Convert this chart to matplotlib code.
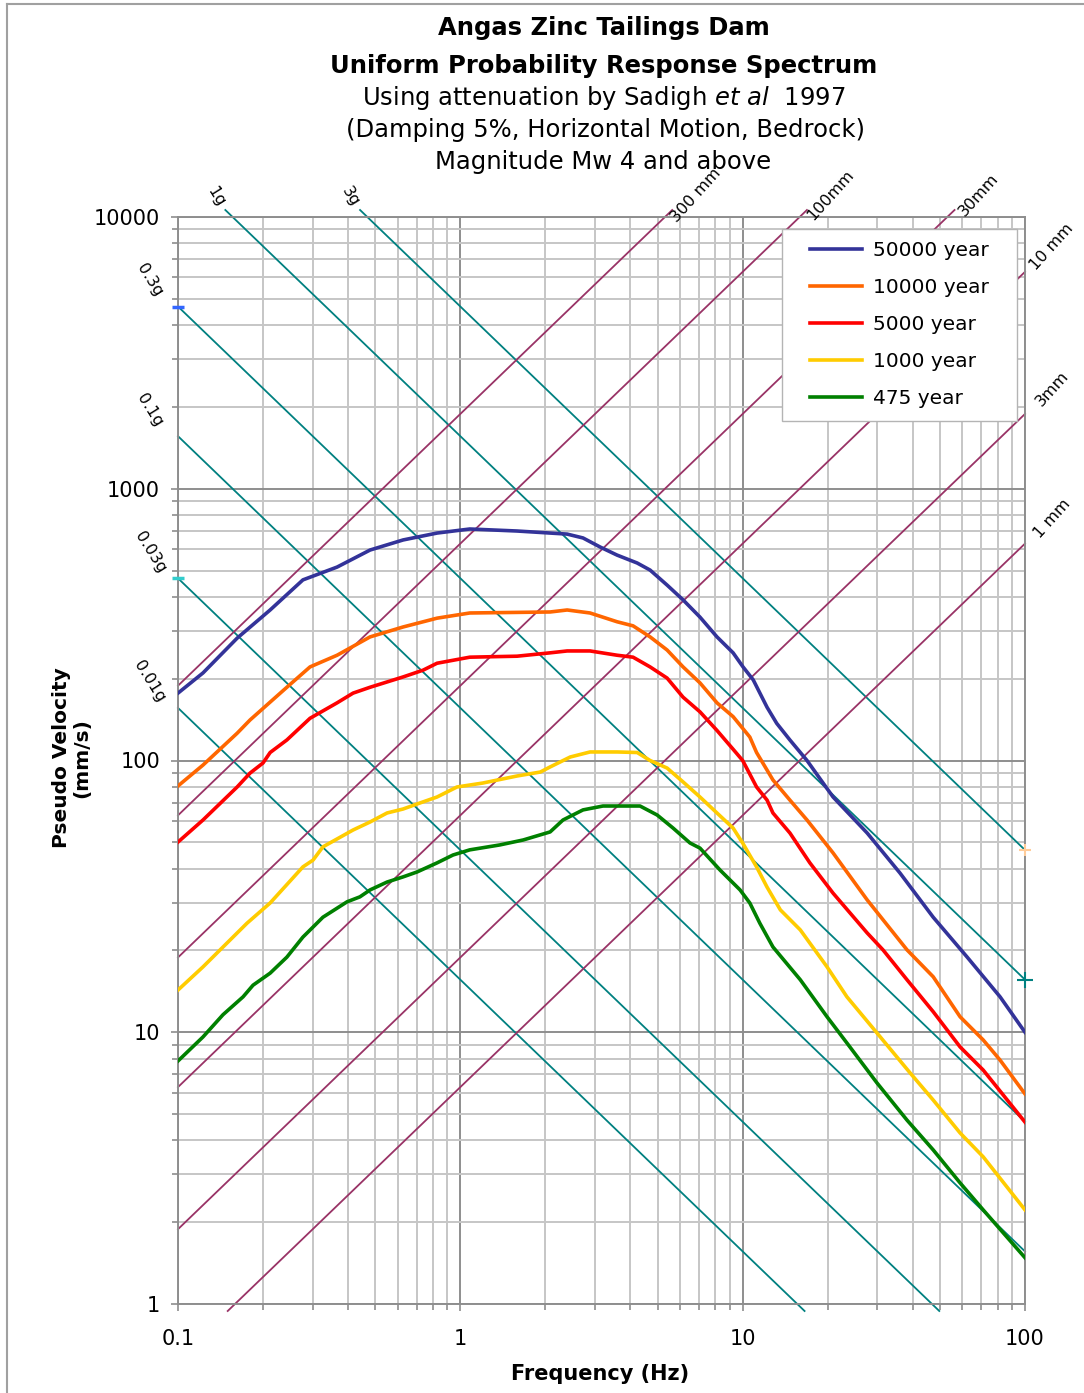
import numpy as np
import matplotlib
matplotlib.use("Agg")
import matplotlib.pyplot as plt
from matplotlib.ticker import LogLocator, NullFormatter, FixedLocator, FixedFormatter
from matplotlib.lines import Line2D
from matplotlib.patches import Rectangle

# ---------------- data ----------------
blue_f = [0.1, 0.1226, 0.162, 0.212, 0.277, 0.366, 0.479, 0.627, 0.827, 1.08, 1.588, 2.08, 2.39, 2.72,
          3.13, 3.59, 4.23, 4.70, 5.40, 6.15, 7.06, 8.11, 9.25, 10.03, 10.9, 12.2, 13.2, 14.7, 16.9,
          20.9, 27.6, 36.1, 47.3, 62.4, 81.6, 100]
blue_v = [177, 210, 282, 358, 462, 515, 595, 648, 687, 711, 699, 687, 681, 659,
          610, 570, 533, 502, 442, 390, 337, 285, 249, 221, 198, 157, 137, 119, 100,
          73.4, 54.1, 38.5, 26.5, 18.9, 13.5, 10.0]

orange_f = [0.1, 0.1226, 0.162, 0.18, 0.212, 0.243, 0.2935, 0.366, 0.479, 0.627, 0.827, 1.08, 2.08, 2.39,
            2.88, 3.59, 4.09, 4.70, 5.40, 6.15, 7.06, 8.11, 9.25, 10.6, 11.2, 12.8, 14.7, 16.9, 20.9,
            27.6, 38.2, 47.3, 58.9, 71.1, 81.6, 100]
orange_v = [80.6, 96.2, 126, 141, 164, 186, 221, 244, 285, 310, 334, 349, 352, 358,
            349, 324, 313, 285, 255, 221, 193, 163, 145, 122, 107, 84.8, 71.5, 60.4, 45.7,
            30.7, 20.1, 16.0, 11.4, 9.37, 7.9, 5.93]

red_f = [0.1, 0.1226, 0.162, 0.18, 0.2, 0.212, 0.243, 0.2935, 0.366, 0.417, 0.479, 0.627, 0.738, 0.827,
         1.08, 1.588, 2.08, 2.39, 2.88, 3.59, 4.09, 4.70, 5.40, 6.15, 7.06, 8.11, 9.25, 10.0, 11.2,
         12.2, 12.8, 14.7, 17.3, 20.9, 27.6, 31.4, 38.2, 47.3, 58.9, 71.1, 100]
red_v = [50.1, 60.4, 79.9, 89.9, 97.9, 107, 119, 143, 163, 177, 186, 203, 215, 228,
         240, 242, 249, 253, 253, 244, 240, 221, 201, 171, 151, 129, 110, 100, 79.9,
         71.5, 64.1, 54.1, 42.0, 32.5, 23.2, 20.1, 15.6, 11.9, 8.83, 7.26, 4.67]

yellow_f = [0.1, 0.1226, 0.141, 0.1756, 0.212, 0.277, 0.3008, 0.326, 0.417, 0.479, 0.55, 0.627, 0.72,
            0.827, 0.973, 1.20, 1.588, 1.92, 2.08, 2.45, 2.88, 3.59, 4.23, 4.70, 5.40, 6.15, 7.06,
            8.11, 9.25, 10.0, 11.2, 12.2, 13.6, 16.0, 19.9, 23.4, 29.9, 39.2, 47.3, 58.9, 71.1, 100]
yellow_v = [14.3, 17.4, 20.1, 25.2, 29.9, 40.6, 43.0, 48.1, 55.5, 59.4, 64.1, 66.3, 69.8,
            73.4, 79.9, 82.6, 87.7, 90.7, 94.7, 103, 107.5, 107.5, 107, 100, 93.8, 83.4, 73.4,
            64.1, 56.4, 49.7, 40.6, 34.2, 28.2, 23.8, 17.4, 13.5, 9.94, 7.08, 5.63, 4.26, 3.48, 2.22]

green_f = [0.1, 0.1226, 0.1443, 0.170, 0.1844, 0.212, 0.243, 0.277, 0.301, 0.326, 0.397, 0.441, 0.479,
           0.55, 0.627, 0.703, 0.827, 0.942, 1.08, 1.38, 1.67, 2.08, 2.31, 2.72, 3.20, 4.33, 4.98,
           5.67, 6.51, 7.06, 8.32, 9.79, 10.6, 11.5, 12.8, 16.0, 19.9, 23.4, 29.9, 38.2, 47.3,
           58.9, 71.1, 100]
green_v = [7.84, 9.61, 11.6, 13.5, 14.9, 16.5, 18.9, 22.4, 24.4, 26.5, 30.2, 31.5, 33.4,
           35.7, 37.3, 38.9, 42.0, 44.9, 46.9, 48.9, 51.0, 54.6, 60.4, 65.8, 68.0, 68.0, 63.0,
           56.4, 49.7, 47.6, 39.5, 33.4, 29.9, 25.2, 20.6, 15.6, 11.4, 9.13, 6.51, 4.75, 3.69,
           2.79, 2.22, 1.48]

series_names = ["50000 year", "10000 year", "5000 year", "1000 year", "475 year"]
series_colors = ["#333399", "#FF6600", "#FF0000", "#FFCC00", "#008000"]
series_f = [blue_f, orange_f, red_f, yellow_f, green_f]
series_v = [blue_v, orange_v, red_v, yellow_v, green_v]

accel_g = [0.01, 0.03, 0.1, 0.3, 1, 3]
accel_labels = ["0.01g", "0.03g", "0.1g", "0.3g", "1g", "3g"]
disp_mm = [1, 3, 10, 30, 100, 300]
disp_labels = ["1 mm", "3mm", "10 mm", "30mm", "100mm", "300 mm"]

x_ticks = [0.1, 1, 10, 100]
x_ticklabels = ["0.1", "1", "10", "100"]
y_ticks = [1, 10, 100, 1000, 10000]
y_ticklabels = ["1", "10", "100", "1000", "10000"]

G = 9810.0  # mm/s^2

# ---------------- figure ----------------
W, H = 1084, 1393
fig = plt.figure(figsize=(W / 100, H / 100), dpi=100)
fig.patch.set_facecolor("white")
ax = fig.add_axes([178 / W, 1 - 1304 / H, (1025 - 178) / W, (1304 - 217) / H])
ax.set_xscale("log")
ax.set_yscale("log")
ax.set_xlim(0.1, 100)
ax.set_ylim(1, 10000)

# grid
ax.xaxis.set_minor_locator(LogLocator(base=10, subs=np.arange(2, 10)))
ax.yaxis.set_minor_locator(LogLocator(base=10, subs=np.arange(2, 10)))
ax.xaxis.set_minor_formatter(NullFormatter())
ax.yaxis.set_minor_formatter(NullFormatter())
ax.xaxis.set_major_locator(FixedLocator(x_ticks))
ax.xaxis.set_major_formatter(FixedFormatter(x_ticklabels))
ax.yaxis.set_major_locator(FixedLocator(y_ticks))
ax.yaxis.set_major_formatter(FixedFormatter(y_ticklabels))
ax.grid(which="minor", color="#c6c6c6", lw=1.4, zorder=0)
ax.grid(which="major", color="#8e8e8e", lw=1.4, zorder=0)
ax.set_axisbelow(True)
for s in ax.spines.values():
    s.set_color("#8e8e8e")
    s.set_linewidth(1.4)
ax.tick_params(which="both", direction="out", color="#8e8e8e", width=1.2)
ax.tick_params(which="major", length=5)
ax.tick_params(which="minor", length=4)
ax.tick_params(axis="y", which="major", labelsize=15, pad=8)
ax.tick_params(axis="x", which="major", labelsize=15, pad=13)

# diagonal reference lines
ext = 10 ** (7 / 271.75)
vtop, vbot = 10000 * ext, 1 / ext
for a, lab in zip(accel_g, accel_labels):
    A = a * G
    f1 = max(0.1, A / (2 * np.pi * vtop))
    f2 = min(100, A / (2 * np.pi * vbot))
    fs = np.array([f1, f2])
    ax.plot(fs, A / (2 * np.pi * fs), color="#008080", lw=1.3, clip_on=False, zorder=2)
    if A / (2 * np.pi * 0.1) > 10000:
        fx, vy, off = A / (2 * np.pi * 10000), 10000, (-17 * 0.72, 20 * 0.72)
    else:
        fx, vy, off = 0.1, A / (2 * np.pi * 0.1), (-28 * 0.72, 26 * 0.72)
    ax.annotate(lab, (fx, vy), xytext=off, textcoords="offset points", fontsize=11.5,
                rotation=-58, ha="center", va="center", annotation_clip=False)

for d, lab in zip(disp_mm, disp_labels):
    f1 = max(0.1, vbot / (2 * np.pi * d))
    f2 = min(100, vtop / (2 * np.pi * d))
    fs = np.array([f1, f2])
    ax.plot(fs, 2 * np.pi * fs * d, color="#993366", lw=1.3, clip_on=False, zorder=2)
    if 2 * np.pi * 100 * d > 10000:
        fx, vy, off = 10000 / (2 * np.pi * d), 10000, (31 * 0.72, 22 * 0.72)
    else:
        fx, vy, off = 100, 2 * np.pi * 100 * d, (27 * 0.72, 25 * 0.72)
    ax.annotate(lab, (fx, vy), xytext=off, textcoords="offset points", fontsize=11.5,
                rotation=48, ha="center", va="center", annotation_clip=False)

# small stray markers at line ends (as in the original)
ax.plot([0.1], [0.3 * G / (2 * np.pi * 0.1)], marker="_", color="#3366ff", ms=9, mew=2.5, clip_on=False, zorder=4)
ax.plot([0.1], [0.03 * G / (2 * np.pi * 0.1)], marker="_", color="#33cccc", ms=9, mew=2.5, clip_on=False, zorder=4)
ax.plot([100], [3 * G / (2 * np.pi * 100)], marker="+", color="#ffcc99", ms=9, mew=1.5, clip_on=False, zorder=4)
ax.plot([100], [1 * G / (2 * np.pi * 100)], marker="+", color="#008080", ms=11, mew=1.5, clip_on=False, zorder=4)

# spectra
handles = []
for f, v, c, n in zip(series_f, series_v, series_colors, series_names):
    ln, = ax.plot(f, v, color=c, lw=2.6, zorder=5, label=n, solid_joinstyle="round")
    handles.append(ln)

# legend (frame drawn separately to get Excel-like padding)
leg = fig.legend(handles=handles, loc="upper left", bbox_to_anchor=(810 / W, 1 - 241 / H),
                 fontsize=14.5, frameon=False, handlelength=2.6, handletextpad=0.55,
                 labelspacing=0.9, borderpad=0.0, borderaxespad=0)
fig.canvas.draw()
bb = leg.get_window_extent(fig.canvas.get_renderer())
x0, x1 = 782, bb.x1 + 28
y1 = bb.y1 + 12
y0 = bb.y0 - 12
fig.add_artist(Rectangle((x0 / W, y0 / H), (x1 - x0) / W, (y1 - y0) / H, transform=fig.transFigure,
                         facecolor="white", edgecolor="#b4b4b4", lw=1.0, zorder=3))
leg.set_zorder(4)

# axis labels
fig.text(600 / W, 1 - 1374 / H, "Frequency (Hz)", ha="center", va="center", fontsize=15, fontweight="bold")
fig.text(72 / W, 1 - 758 / H, "Pseudo Velocity\n(mm/s)", ha="center", va="center", fontsize=14.5,
         fontweight="bold", rotation=90, linespacing=1.1)

# titles
fig.text(604 / W, 1 - 28 / H, "Angas Zinc Tailings Dam", ha="center", va="center", fontsize=17.5, fontweight="bold")
fig.text(604 / W, 1 - 66 / H, "Uniform Probability Response Spectrum", ha="center", va="center", fontsize=17.5,
         fontweight="bold")
fig.text(604 / W, 1 - 98 / H, r"Using attenuation by Sadigh $\mathit{et\ al}$  1997", ha="center", va="center",
         fontsize=17.5)
fig.text(606 / W, 1 - 130 / H, "(Damping 5%, Horizontal Motion, Bedrock)", ha="center", va="center", fontsize=17.5)
fig.text(603 / W, 1 - 162 / H, "Magnitude Mw 4 and above", ha="center", va="center", fontsize=17.5)

# outer border (left and top edges visible in original)
fig.add_artist(Line2D([7 / W, 7 / W], [0, 1 - 4 / H], transform=fig.transFigure, color="#a0a0a0", lw=1.5))
fig.add_artist(Line2D([7 / W, 1], [1 - 4 / H, 1 - 4 / H], transform=fig.transFigure, color="#a0a0a0", lw=1.5))

fig.savefig("out.png", dpi=100)
